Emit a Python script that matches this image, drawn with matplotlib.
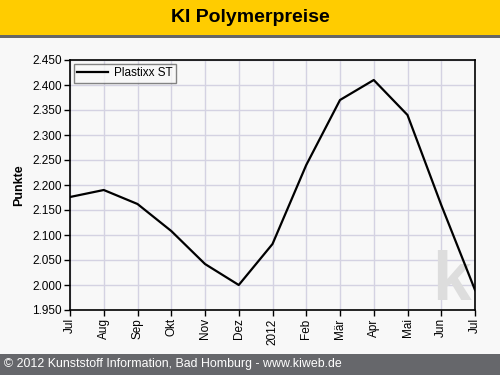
import matplotlib.pyplot as plt
import matplotlib.patches as patches

# data
months = ["Jul", "Aug", "Sep", "Okt", "Nov", "Dez", "2012",
          "Feb", "Mär", "Apr", "Mai", "Jun", "Jul"]
plastixx_st = [2.176, 2.190, 2.162, 2.108, 2.042, 2.000, 2.082,
               2.240, 2.370, 2.410, 2.340, 2.160, 1.990]
y_ticks = [1.95, 2.0, 2.05, 2.1, 2.15, 2.2, 2.25, 2.3, 2.35, 2.4, 2.45]

W, H = 500, 375
fig = plt.figure(figsize=(5, 3.75), dpi=100)
fig.patch.set_facecolor("#F8F8F8")

# header band
fig.add_artist(patches.Rectangle((0, 1 - 35 / H), 1, 35 / H, transform=fig.transFigure,
                                 facecolor="#FFCC00", edgecolor="none"))
fig.add_artist(patches.Rectangle((0, 1 - 38 / H), 1, 3 / H, transform=fig.transFigure,
                                 facecolor="#666666", edgecolor="none"))
fig.text(0.5, 1 - 18 / H, "KI Polymerpreise", ha="center", va="center",
         fontsize=14, fontweight="bold", family="Liberation Sans")

# footer band
fig.add_artist(patches.Rectangle((0, 0), 1, 21 / H, transform=fig.transFigure,
                                 facecolor="#66676B", edgecolor="none"))
fig.text(4 / W, 10.5 / H, "© 2012 Kunststoff Information, Bad Homburg - www.kiweb.de",
         ha="left", va="center", fontsize=8.9, color="white", family="Liberation Sans")

ax = fig.add_axes([70 / W, 1 - 310 / H, 405 / W, 250 / H])
ax.set_facecolor("#F8F8F8")
x = list(range(len(months)))
ax.plot(x, plastixx_st, color="black", lw=1.6, label="Plastixx ST", zorder=3)

ax.set_xlim(0, len(months) - 1)
ax.set_ylim(1.95, 2.45)
ax.set_xticks(x)
ax.set_xticklabels(months, rotation=90, family="Liberation Sans", fontsize=8.5)
ax.set_yticks(y_ticks)
ax.set_yticklabels([f"{v:.3f}" for v in y_ticks],
                   family="Liberation Sans", fontsize=8.5)
ax.tick_params(direction="out", length=4, width=1, color="black", pad=2)
ax.grid(True, color="#D4D2E2", lw=1)
ax.set_axisbelow(True)
for s in ax.spines.values():
    s.set_linewidth(1.2)
ax.set_ylabel("Punkte", fontsize=9, fontweight="bold", family="Liberation Sans", labelpad=5)

# watermark, clipped at the right edge
ax.text(0.893, 0.04, "ki", transform=ax.transAxes, ha="left", va="baseline",
        fontsize=50, fontweight="bold", color="#DDDDDD", family="Liberation Sans",
        zorder=1, clip_on=True)

leg = ax.legend(loc="upper left", frameon=True, fancybox=False,
                handlelength=2.6, handletextpad=0.5, borderpad=0.3, borderaxespad=0.3,
                prop={"family": "Liberation Sans", "size": 8.5})
leg.get_frame().set_edgecolor("#666666")
leg.get_frame().set_facecolor("#F8F8F8")
leg.get_frame().set_linewidth(1)

fig.savefig("out.png", dpi=100, facecolor=fig.get_facecolor())
